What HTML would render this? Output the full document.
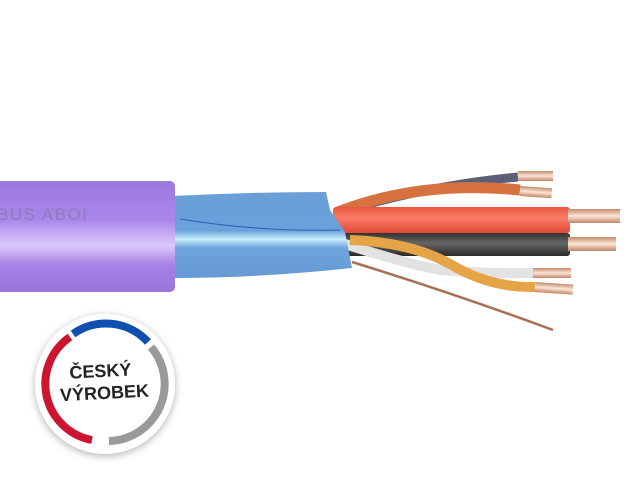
<!DOCTYPE html>
<html><head><meta charset="utf-8"><style>
html,body{margin:0;padding:0;background:#fff;width:640px;height:480px;overflow:hidden}
</style></head><body>
<svg width="640" height="480" viewBox="0 0 640 480" xmlns="http://www.w3.org/2000/svg">
<defs>
<linearGradient id="pur" x1="0" y1="0" x2="0" y2="1">
<stop offset="0" stop-color="#9d78de"/><stop offset="0.35" stop-color="#a987ea"/>
<stop offset="0.58" stop-color="#dcc8fb"/><stop offset="0.75" stop-color="#a783e6"/>
<stop offset="1" stop-color="#9a74dc"/></linearGradient>
<linearGradient id="blu" x1="0" y1="0" x2="0" y2="1">
<stop offset="0" stop-color="#6a9fd8"/><stop offset="0.45" stop-color="#6aa2dc"/>
<stop offset="0.55" stop-color="#c9eefc"/><stop offset="0.65" stop-color="#6ea5dd"/>
<stop offset="1" stop-color="#6699d4"/></linearGradient>
<linearGradient id="red" x1="0" y1="0" x2="0" y2="1">
<stop offset="0" stop-color="#e8553f"/><stop offset="0.4" stop-color="#fb7d68"/><stop offset="1" stop-color="#e04a38"/></linearGradient>
<linearGradient id="blk" x1="0" y1="0" x2="0" y2="1">
<stop offset="0" stop-color="#333"/><stop offset="0.45" stop-color="#666"/><stop offset="1" stop-color="#2a2a2a"/></linearGradient>
<linearGradient id="cu" x1="0" y1="0" x2="0" y2="1">
<stop offset="0" stop-color="#c48a6a"/><stop offset="0.5" stop-color="#fbe6d8"/><stop offset="1" stop-color="#c28466"/></linearGradient>
<filter id="sh" x="-30%" y="-30%" width="160%" height="160%"><feDropShadow dx="0" dy="2" stdDeviation="4" flood-color="#000" flood-opacity="0.3"/></filter>
</defs>
<path d="M352 262 Q450 292 553 330" stroke="#a86f55" stroke-width="2.5" fill="none"/>
<path d="M340 212 Q430 185 518 177" stroke="#5b5f78" stroke-width="9" fill="none"/>
<rect x="518" y="171" width="35" height="10" fill="url(#cu)"/>
<path d="M338 212 Q420 180 520 190" stroke="#d6723f" stroke-width="11" fill="none"/>
<rect x="520" y="186" width="32" height="10" fill="url(#cu)" transform="rotate(4 520 190)"/>
<rect x="333" y="207" width="237" height="26" rx="3" fill="url(#red)"/>
<rect x="568" y="209" width="52" height="14" fill="url(#cu)"/>
<rect x="340" y="233" width="230" height="23" rx="3" fill="url(#blk)"/>
<rect x="568" y="237" width="48" height="14" fill="url(#cu)"/>
<!-- white wire over black -->
<path d="M345 244 Q400 262 440 270 Q490 274 533 273" stroke="#e2e2e2" stroke-width="10" fill="none"/>
<rect x="533" y="268" width="38" height="10" fill="url(#cu)"/>
<!-- yellow wire -->
<path d="M350 240 Q410 242 450 264 Q490 288 535 287" stroke="#e5a446" stroke-width="10" fill="none"/>
<rect x="535" y="282" width="38" height="10" fill="url(#cu)" transform="rotate(4 535 287)"/>
<path d="M172 196 Q250 192 326 192 L330 210 L345 232 L352 268 Q260 278 172 278 Z" fill="url(#blu)"/>
<path d="M180 219 Q260 232 340 230" stroke="#2d5fb0" stroke-width="1" fill="none"/>
<rect x="-5" y="181" width="180" height="111" rx="5" fill="url(#pur)"/>
<text x="-3" y="220" font-family="Liberation Sans, sans-serif" font-size="17" fill="#8f7cb8" letter-spacing="1.5">BUS ABOI</text>
<circle cx="105" cy="384" r="70" fill="#fff" filter="url(#sh)"/>
<g fill="none" stroke-width="8">
<path d="M70 337 A57 57 0 0 0 92 440" stroke="#cc1530"/>
<path d="M73 334 A57 57 0 0 1 148 342" stroke="#0f4fb0"/>
<path d="M151 347 A57 57 0 0 1 109 441" stroke="#9a9a9a"/>
</g>
<g transform="rotate(-3 103 383)" font-family="Liberation Sans, sans-serif" font-weight="bold" font-size="18" fill="#222" text-anchor="middle">
<text x="101" y="377">ČESKÝ</text>
<text x="104" y="399">VÝROBEK</text>
</g>
</svg>
</body></html>
